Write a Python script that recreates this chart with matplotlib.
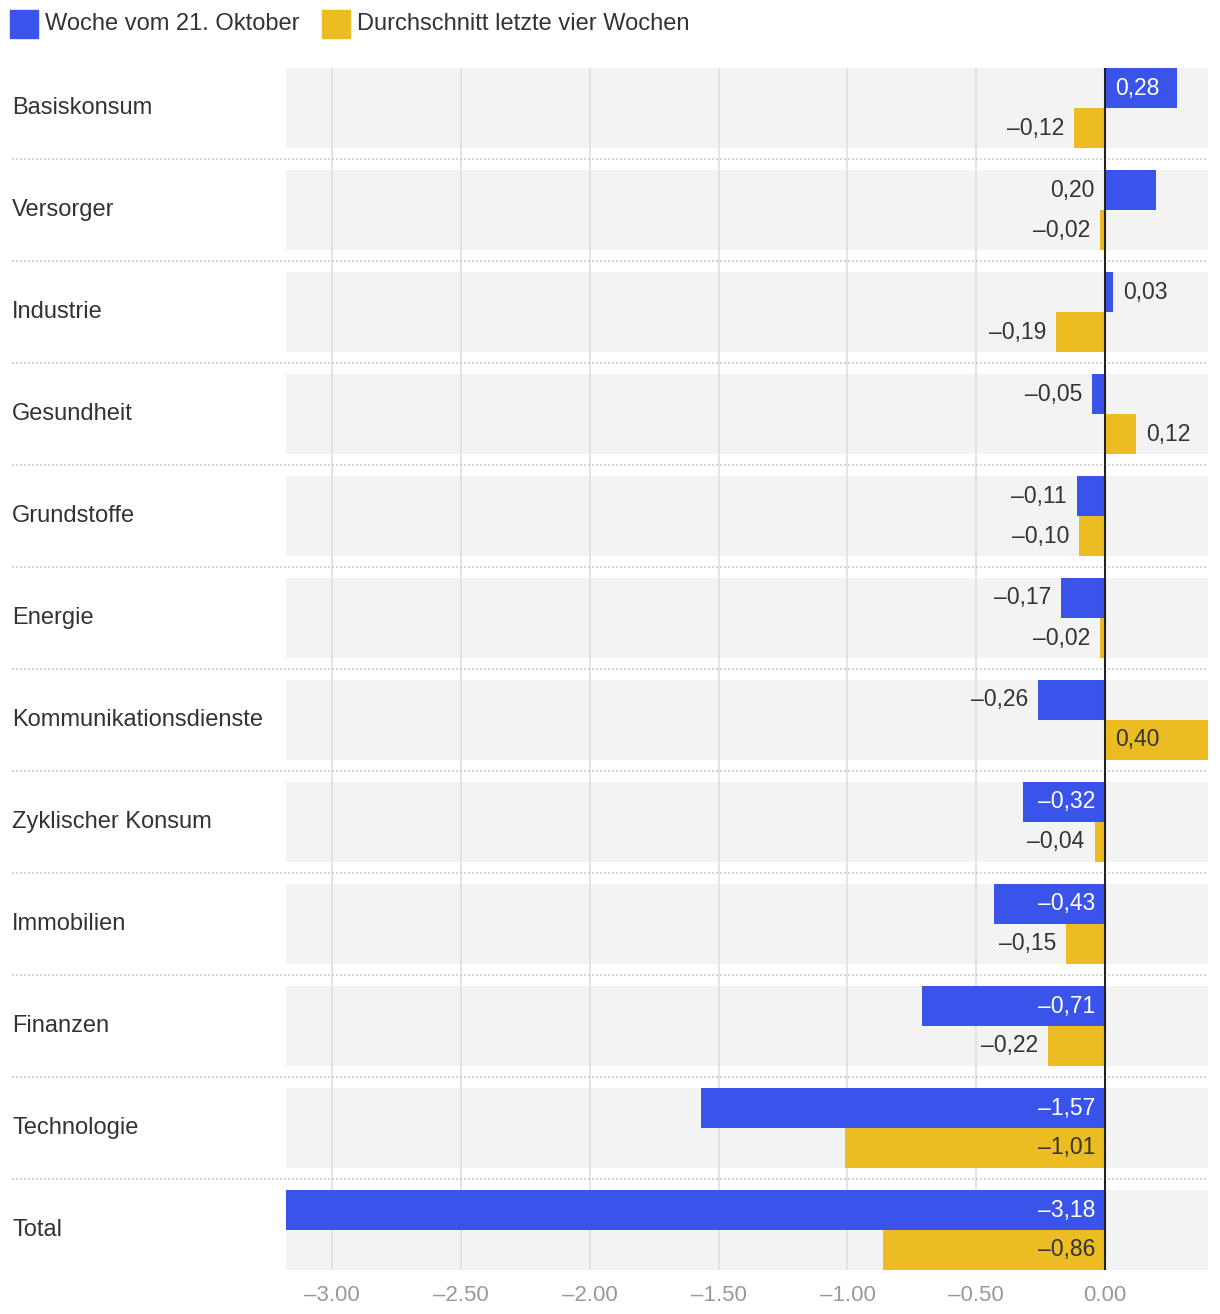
import matplotlib
matplotlib.use("Agg")
import matplotlib.pyplot as plt
import matplotlib.transforms as mtransforms
from matplotlib.patches import Rectangle

plt.rcParams['font.family'] = ['Liberation Sans', 'DejaVu Sans']

kategorien = ["Basiskonsum", "Versorger", "Industrie", "Gesundheit", "Grundstoffe", "Energie",
              "Kommunikationsdienste", "Zyklischer Konsum", "Immobilien", "Finanzen",
              "Technologie", "Total"]
woche = [0.28, 0.20, 0.03, -0.05, -0.11, -0.17, -0.26, -0.32, -0.43, -0.71, -1.57, -3.18]
schnitt = [-0.12, -0.02, -0.19, 0.12, -0.10, -0.02, 0.40, -0.04, -0.15, -0.22, -1.01, -0.86]
ticks = [-3.0, -2.5, -2.0, -1.5, -1.0, -0.5, 0.0]
legende = ["Woche vom 21. Oktober", "Durchschnitt letzte vier Wochen"]

BLAU = "#3a53ea"
GELB = "#ebbd22"
DUNKEL = "#333333"
XMIN, XMAX = -3.18, 0.40
FS_LABEL = 17
FS_WERT = 16.5
FS_TICK = 16

W, H = 1220, 1314
fig = plt.figure(figsize=(W / 100, H / 100), dpi=100)
ax = fig.add_axes([286 / W, (H - 1270) / H, 922 / W, 1202 / H])

band = 80 / 102
bh = band / 2
n = len(kategorien)

for i in range(n):
    ax.axhspan(i - bh, i + bh, color="#f3f3f3", lw=0, zorder=0)

for t in ticks:
    ax.axvline(t, color="#dddddd", lw=1.1, zorder=1)

ax.barh([i - bh / 2 for i in range(n)], woche, height=bh, color=BLAU, zorder=2)
ax.barh([i + bh / 2 for i in range(n)], schnitt, height=bh, color=GELB, zorder=2)
ax.axvline(0, color="#222222", lw=1.5, zorder=4)

def fmt(v):
    return f"{v:.2f}".replace(".", ",").replace("-", "\u2013")

def beschriften(v, y, farbe_innen):
    pad = 10
    if abs(v) >= 0.27:
        # inside, anchored at the base
        if v < 0:
            ax.annotate(fmt(v), (0, y), xytext=(-pad, 0), textcoords="offset pixels",
                        ha="right", va="center", fontsize=FS_WERT, color=farbe_innen, zorder=5)
        else:
            ax.annotate(fmt(v), (0, y), xytext=(pad, 0), textcoords="offset pixels",
                        ha="left", va="center", fontsize=FS_WERT, color=farbe_innen, zorder=5)
    else:
        if v < 0:
            ax.annotate(fmt(v), (v, y), xytext=(-pad, 0), textcoords="offset pixels",
                        ha="right", va="center", fontsize=FS_WERT, color=DUNKEL, zorder=5)
        elif v + 0.22 > XMAX:
            ax.annotate(fmt(v), (0, y), xytext=(-pad, 0), textcoords="offset pixels",
                        ha="right", va="center", fontsize=FS_WERT, color=DUNKEL, zorder=5)
        else:
            ax.annotate(fmt(v), (v, y), xytext=(pad, 0), textcoords="offset pixels",
                        ha="left", va="center", fontsize=FS_WERT, color=DUNKEL, zorder=5)

for i in range(n):
    beschriften(woche[i], i - bh / 2, "white")
    beschriften(schnitt[i], i + bh / 2, DUNKEL)

ax.set_xlim(XMIN, XMAX)
ax.set_ylim(n - 1 + bh, -bh)
ax.set_xticks(ticks)
ax.set_xticklabels([f"{t:.2f}".replace("-", "\u2013") for t in ticks])
ax.tick_params(axis="x", length=0, pad=11, labelsize=FS_TICK, labelcolor="#999999")
ax.set_yticks([])
for s in ax.spines.values():
    s.set_visible(False)

# category labels and dotted separators
trans = mtransforms.blended_transform_factory(fig.transFigure, ax.transData)
for i, k in enumerate(kategorien):
    fig.text(12 / W, i, k, transform=trans, ha="left", va="center", fontsize=FS_LABEL, color=DUNKEL)
    if i < n - 1:
        ax.plot([12 / W, 1208 / W], [i + 0.5, i + 0.5], transform=trans, color="#cccccc",
                lw=1.2, ls=(0, (1.2, 1.2)), clip_on=False, zorder=3)

# legend
for x0, farbe, text in [(10, BLAU, legende[0]), (322, GELB, legende[1])]:
    fig.patches.append(Rectangle((x0 / W, 1 - 38 / H), 28 / W, 28 / H, transform=fig.transFigure,
                                 color=farbe, figure=fig))
    fig.text((x0 + 35) / W, 1 - 24 / H, text, ha="left", va="center", fontsize=FS_LABEL, color=DUNKEL)

fig.savefig("out.png", dpi=100)
